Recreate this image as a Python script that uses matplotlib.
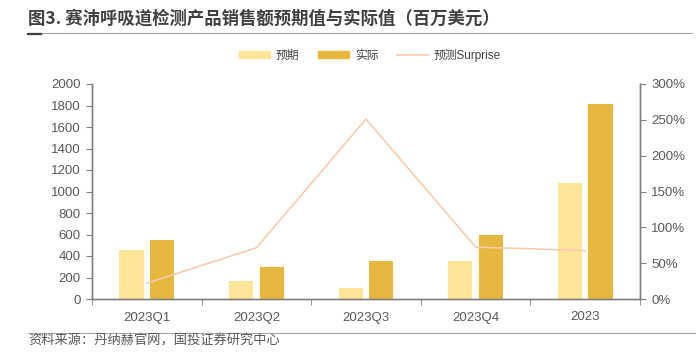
import numpy as np
import matplotlib.pyplot as plt
from matplotlib.lines import Line2D

plt.rcParams['font.family'] = ['Liberation Sans', 'Noto Sans CJK SC', 'DejaVu Sans']

categories = ['2023Q1', '2023Q2', '2023Q3', '2023Q4', '2023']
expected = [452, 172, 100, 351, 1075]
actual = [551, 295, 351, 597, 1810]
surprise = [22, 71.5, 251, 72.5, 67.5]  # percent

c_exp = '#FFE597'
c_act = '#E8B83E'
c_line = '#F8CBAD'
grey = '#595959'
spine = '#7F7F7F'

fig = plt.figure(figsize=(6.96, 3.57), dpi=100)
ax = fig.add_axes([92 / 696, 1 - 299 / 357, 548 / 696, 215 / 357])
ax2 = ax.twinx()

x = np.arange(len(categories))
w = 0.22
ax.bar(x - 0.14, expected, w, color=c_exp, zorder=2)
ax.bar(x + 0.14, actual, w, color=c_act, zorder=2)
ax2.plot(x, surprise, color=c_line, lw=1.2)

ax.set_xlim(-0.5, 4.5)
ax.set_ylim(0, 2000)
ax.set_yticks(range(0, 2001, 200))
ax2.set_ylim(0, 300)
ax2.set_yticks(range(0, 301, 50))
ax2.set_yticklabels([f'{v}%' for v in range(0, 301, 50)])

ax.set_xticks(x)
ax.set_xticklabels(categories)
ax.set_xticks(np.arange(-0.5, 5, 1), minor=True)
ax.tick_params(axis='x', which='major', length=0, pad=9, labelsize=9.5, colors=grey)
ax.tick_params(axis='x', which='minor', length=4, color=spine, direction='out')
ax.tick_params(axis='y', length=4, color=spine, labelsize=9.5, labelcolor=grey, pad=4)
ax2.tick_params(axis='y', length=4, color=spine, labelsize=9.5, labelcolor=grey, pad=4)

for a in (ax, ax2):
    a.spines['top'].set_visible(False)
    for s in ('left', 'right', 'bottom'):
        a.spines[s].set_color(spine)
        a.spines[s].set_linewidth(1)

# legend
handles = [
    plt.Rectangle((0, 0), 1, 1, color=c_exp),
    plt.Rectangle((0, 0), 1, 1, color=c_act),
    Line2D([0], [0], color=c_line, lw=1.2),
]
fig.legend(handles, ['预期', '实际', '预测Surprise'], loc='center', bbox_to_anchor=(370 / 696, 1 - 55 / 357),
           ncol=3, frameon=False, fontsize=8.5, handlelength=2.6, handleheight=0.6,
           columnspacing=1.6, handletextpad=0.5, labelcolor='#404040')

# title and source
fig.text(28 / 696, 1 - 19 / 357, '图3. 赛沛呼吸道检测产品销售额预期值与实际值（百万美元）',
         fontsize=12.5, fontweight='bold', color='#404040', va='center', ha='left',
         family=['Noto Sans CJK SC', 'DejaVu Sans'])
fig.add_artist(Line2D([28 / 696, 692 / 696], [1 - 33 / 357] * 2, color='#A6A6A6', lw=0.8))
fig.add_artist(Line2D([28 / 696, 41 / 696], [1 - 33.5 / 357] * 2, color='#404040', lw=1.6))
fig.add_artist(Line2D([28 / 696, 696 / 696], [1 - 333 / 357] * 2, color='#A6A6A6', lw=0.8))
fig.text(28 / 696, 1 - 341 / 357, '资料来源：丹纳赫官网，国投证券研究中心', fontsize=9.5,
         style='italic', color=grey, va='center', ha='left', family=['Noto Sans CJK SC', 'DejaVu Sans'])

fig.savefig('out.png', dpi=100)
